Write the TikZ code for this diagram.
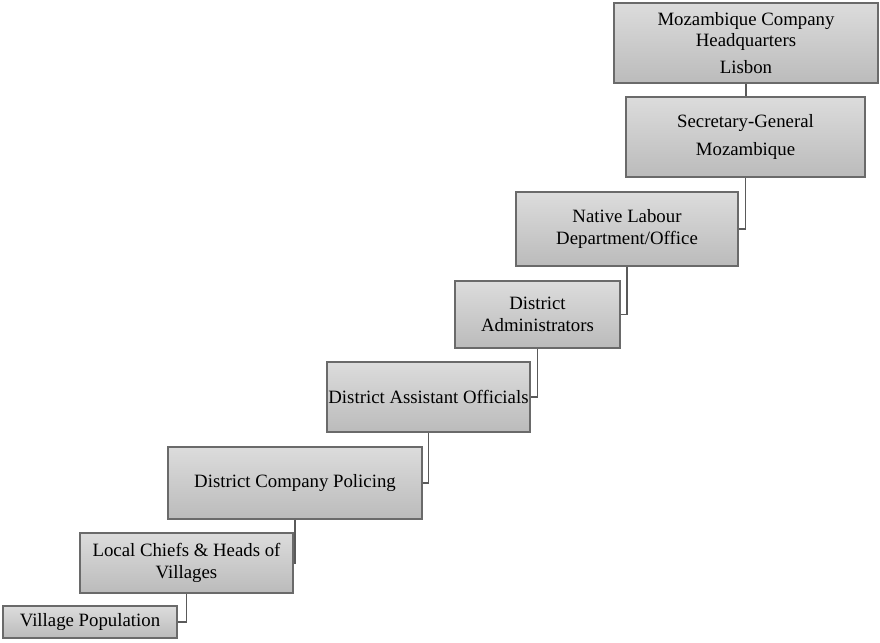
\documentclass[tikz,border=0pt]{standalone}
\usepackage{fontspec}
\setmainfont{Liberation Serif}
\definecolor{boxtop}{HTML}{DCDCDC}
\definecolor{boxbot}{HTML}{BBBBBB}
\definecolor{boxline}{HTML}{6A6A6A}
\definecolor{conn}{HTML}{5A5A5A}
\tikzset{
  orgbox/.style={draw=boxline, line width=1.4pt, top color=boxtop, bottom color=boxbot,
    align=center, inner sep=0pt, font=\fontsize{18.8}{21.5}\selectfont},
  link/.style={draw=conn, line width=1.5pt}
}
\newcommand{\mkbox}[6]{% name, x1,y1,x2,y2, text
  \node[orgbox, minimum width={(#4-#2)*1pt}, minimum height={(#5-#3)*1pt}] (#1) at ({(#2+#4)/2},{(#3+#5)/2}) {#6};}
\begin{document}
\begin{tikzpicture}[x=1pt,y=-1pt]
\useasboundingbox (0,0) rectangle (880,642);
\mkbox{hq}{614}{3}{878}{83}{Mozambique Company\\Headquarters\\[5pt]Lisbon}
\mkbox{sg}{626}{97}{865}{177}{Secretary-General\\[6pt]Mozambique}
\mkbox{nl}{516}{192}{738}{266}{Native Labour\\Department/Office}
\mkbox{da}{455}{281}{620}{348}{District\\Administrators}
\mkbox{dao}{327}{362}{530}{432}{District Assistant Officials}
\mkbox{dcp}{168}{447}{422}{519}{District Company Policing}
\mkbox{lc}{80}{533}{293}{593}{Local Chiefs \& Heads of\\Villages}
\mkbox{vp}{3}{606}{177}{638}{Village Population}
\draw[link] (hq.south) -- (hq.south |- sg.north);
\draw[link] (sg.south) |- (nl.east);
\draw[link] (nl.south) |- (da.east);
\draw[link] (da.south) |- (dao.east);
\draw[link] (dao.south) |- (dcp.east);
\draw[link] (dcp.south) |- (lc.east);
\draw[link] (lc.south) |- (vp.east);
\end{tikzpicture}
\end{document}
